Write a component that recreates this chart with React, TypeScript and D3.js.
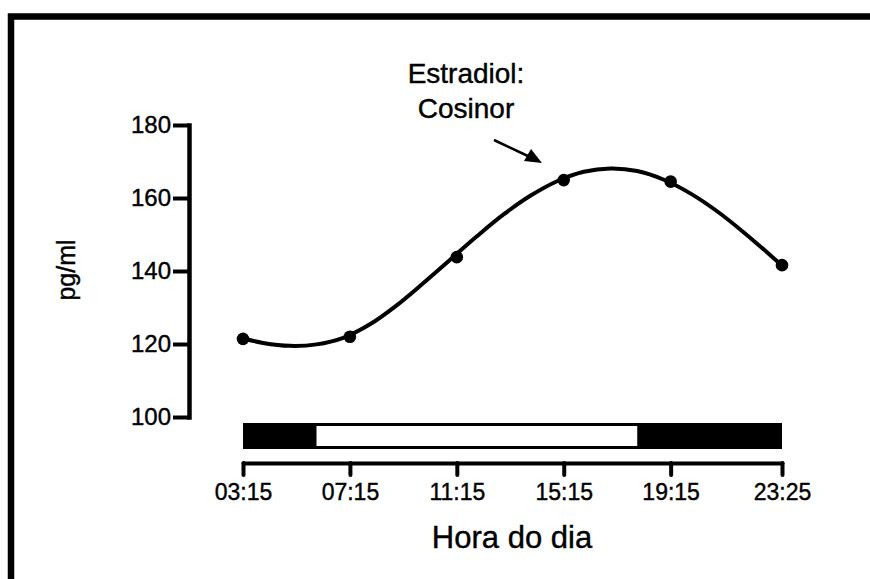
import React, { useEffect, useRef } from "react";
import * as d3 from "d3";

// sampling times (hours) and their labels
const timeHours = [3.25, 7.25, 11.25, 15.25, 19.25, 23.4167];
const timeLabels = ["03:15", "07:15", "11:15", "15:15", "19:15", "23:25"];

// measured estradiol (pg/ml)
const estradiol = [121.4, 122, 143.8, 164.9, 164.5, 141.6];

// cosinor fit curve
const fitHours = [3.25, 4, 5, 6, 7, 8, 9, 10, 11, 12, 13, 14, 15, 16, 17, 18, 19, 20, 21, 22, 23, 23.4167];
const fitValues = [121.5, 120.3, 119.5, 119.9, 121.7, 125.4, 130.6, 136.7, 143.1, 149.5, 155.5, 160.6, 164.6, 167.2, 168.1, 167.4, 165.0, 161.2, 156.3, 150.5, 144.2, 141.5];

// light phase (lights on / off, hours)
const lightOn = [6, 18];

const yTicks = [100, 120, 140, 160, 180];

const width = 870;
const height = 579;
const font = "'Liberation Sans', Arial, Helvetica, sans-serif";

export default function App() {
  const ref = useRef<SVGSVGElement | null>(null);

  useEffect(() => {
    const node = ref.current;
    if (!node) return;
    const svg = d3.select(node);
    svg.selectAll("*").remove();

    const x = d3.scaleLinear().domain([3.25, 23.4167]).range([243, 782]);
    const y = d3.scaleLinear().domain([100, 180]).range([417, 125]);

    // outer frame
    svg
      .append("rect")
      .attr("x", 11)
      .attr("y", 16.5)
      .attr("width", 900)
      .attr("height", 700)
      .attr("fill", "none")
      .attr("stroke", "#000")
      .attr("stroke-width", 6.5);

    // y axis
    const yAxis = svg
      .append("g")
      .attr("transform", "translate(189,0)")
      .call(
        d3
          .axisLeft(y)
          .tickValues(yTicks)
          .tickSize(16)
          .tickSizeOuter(0)
          .tickPadding(2)
          .tickFormat((d) => String(d))
      );
    yAxis.select(".domain").attr("stroke-width", 4.5).attr("stroke-linecap", "square");
    yAxis.selectAll(".tick line").attr("stroke-width", 4);
    yAxis
      .selectAll(".tick text")
      .attr("font-family", font)
      .attr("font-size", 24)
      .attr("fill", "#000")
      .attr("stroke", "#000")
      .attr("stroke-width", 0.4);

    // x axis
    const xAxis = svg
      .append("g")
      .attr("transform", "translate(0,463)")
      .call(
        d3
          .axisBottom(x)
          .tickValues(timeHours)
          .tickSize(12)
          .tickSizeOuter(0)
          .tickPadding(9)
          .tickFormat((d, i) => timeLabels[i])
      );
    xAxis.select(".domain").attr("stroke-width", 4).attr("stroke-linecap", "round");
    xAxis.selectAll(".tick line").attr("stroke-width", 4).attr("stroke-linecap", "round");
    xAxis
      .selectAll(".tick text")
      .attr("font-family", font)
      .attr("font-size", 23)
      .attr("fill", "#000")
      .attr("stroke", "#000")
      .attr("stroke-width", 0.4);

    // light/dark bar
    svg
      .append("rect")
      .attr("x", x(3.25))
      .attr("y", 423)
      .attr("width", x(23.4167) - x(3.25))
      .attr("height", 26)
      .attr("fill", "#000");
    svg
      .append("rect")
      .attr("x", x(lightOn[0]))
      .attr("y", 426)
      .attr("width", x(lightOn[1]) - x(lightOn[0]))
      .attr("height", 20)
      .attr("fill", "#fff");

    // cosinor curve
    const line = d3
      .line<number>()
      .x((d, i) => x(fitHours[i]))
      .y((d) => y(d))
      .curve(d3.curveCatmullRom);
    svg
      .append("path")
      .attr("d", line(fitValues))
      .attr("fill", "none")
      .attr("stroke", "#000")
      .attr("stroke-width", 4);

    // points
    svg
      .selectAll("circle.pt")
      .data(estradiol)
      .enter()
      .append("circle")
      .attr("class", "pt")
      .attr("cx", (d, i) => x(timeHours[i]))
      .attr("cy", (d) => y(d))
      .attr("r", 6.3)
      .attr("fill", "#000");

    // labels
    const label = (t: string, xx: number, yy: number, size: number, rot = 0) =>
      svg
        .append("text")
        .attr("transform", `translate(${xx},${yy}) rotate(${rot})`)
        .attr("text-anchor", "middle")
        .attr("font-family", font)
        .attr("font-size", size)
        .attr("fill", "#000")
        .attr("stroke", "#000")
        .attr("stroke-width", 0.4)
        .text(t);

    label("pg/ml", 75, 270, 25, -90);
    label("Hora do dia", 512, 548, 31);
    label("Estradiol:", 466, 83, 28);
    label("Cosinor", 466, 118, 28);

    // arrow
    svg
      .append("line")
      .attr("x1", 494)
      .attr("y1", 140)
      .attr("x2", 530)
      .attr("y2", 157)
      .attr("stroke", "#000")
      .attr("stroke-width", 2.5);
    svg
      .append("path")
      .attr("d", "M542,163 L524,161 L531,149 Z")
      .attr("fill", "#000");
  }, []);

  return (
    <svg
      ref={ref}
      width={width}
      height={height}
      style={{ position: "absolute", left: 0, top: 0, background: "#fff" }}
    />
  );
}
